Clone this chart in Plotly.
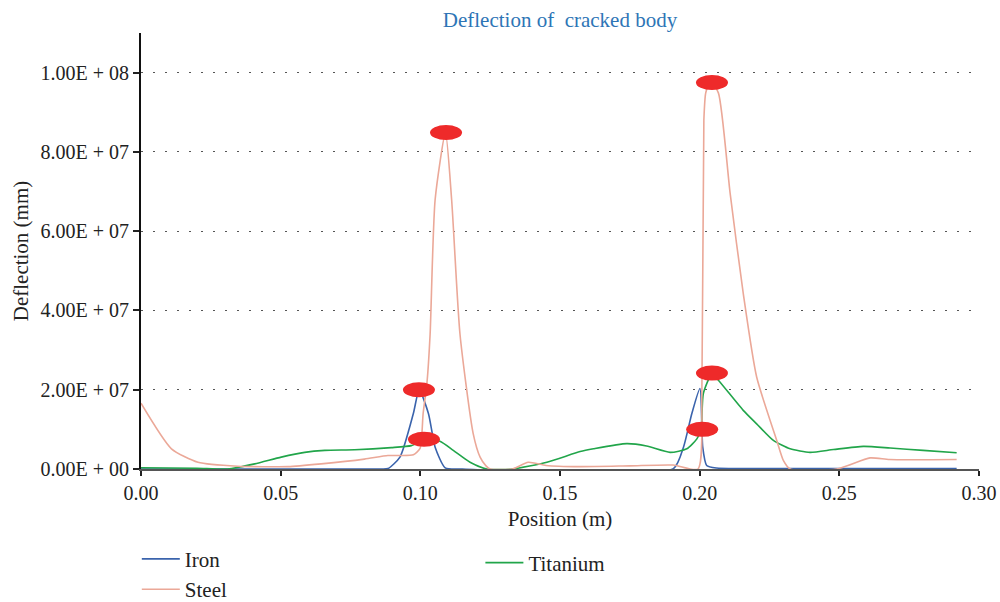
import plotly.graph_objects as go

# ---- data ----
steel_x = [0.0, 0.0109, 0.0204, 0.0347, 0.0526, 0.0645, 0.080, 0.0884, 0.093, 0.0975, 0.0999,
           0.101, 0.1024, 0.1035, 0.1053, 0.109, 0.1112, 0.1142, 0.1189, 0.1214, 0.1235, 0.125,
           0.133, 0.1386, 0.145, 0.157, 0.175, 0.1905, 0.1994, 0.2008, 0.2015, 0.2022, 0.2039,
           0.2067, 0.2109, 0.2156, 0.2204, 0.2276, 0.23, 0.2324, 0.249, 0.261, 0.268, 0.292]
steel_y = [16.6e6, 5.1e6, 1.7e6, 0.7e6, 0.6e6, 1.3e6, 2.5e6, 3.4e6, 3.4e6, 3.6e6, 5.2e6,
           14e6, 22e6, 34e6, 68e6, 84.8e6, 68e6, 34e6, 9e6, 3e6, 0.8e6, 0.0,
           0.0, 1.7e6, 0.9e6, 0.6e6, 0.8e6, 1.0e6, 0.0, 20e6, 88e6, 95e6, 97.8e6,
           94.9e6, 69.6e6, 44.3e6, 23.2e6, 7.2e6, 2.1e6, 0.0, 0.0, 2.8e6, 2.4e6, 2.4e6]

iron_x = [0.0, 0.085, 0.0884, 0.0927, 0.0975, 0.0996, 0.1029, 0.1053, 0.1089, 0.115, 0.1906,
          0.1942, 0.1972, 0.2001, 0.2011, 0.2025, 0.206, 0.215, 0.292]
iron_y = [0.0, 0.0, 0.1e6, 3e6, 14e6, 20e6, 14e6, 5.5e6, 0.3e6, 0.0, 0.1e6,
          5.5e6, 14e6, 20.3e6, 5.5e6, 0.9e6, 0.25e6, 0.1e6, 0.1e6]

titanium_x = [0.0, 0.02, 0.031, 0.0407, 0.0502, 0.0586, 0.0658, 0.0765, 0.0896, 0.0968, 0.1013,
              0.107, 0.1118, 0.1178, 0.1238, 0.133, 0.1453, 0.1572, 0.162, 0.1739, 0.181, 0.1894,
              0.1954, 0.199, 0.2005, 0.2013, 0.2044, 0.2067, 0.2156, 0.2204, 0.2264, 0.2324,
              0.2395, 0.2479, 0.2586, 0.2682, 0.28, 0.292]
titanium_y = [0.3e6, 0.2e6, 0.0, 1.3e6, 3.0e6, 4.2e6, 4.7e6, 4.85e6, 5.4e6, 5.9e6, 7.2e6,
              7.0e6, 4.7e6, 1.7e6, 0.0, 0.0, 1.7e6, 4.4e6, 5.1e6, 6.4e6, 5.8e6, 4.2e6,
              5.1e6, 7.6e6, 10e6, 19e6, 24e6, 22.4e6, 14.8e6, 11.4e6, 7.2e6, 5.1e6,
              4.2e6, 4.9e6, 5.7e6, 5.3e6, 4.7e6, 4.1e6]

peak_x = [0.0995, 0.1013, 0.1092, 0.2044, 0.2044, 0.2009]
peak_y = [2.0e7, 7.5e6, 8.49e7, 9.75e7, 2.42e7, 1.0e7]

y_tickvals = [0, 2e7, 4e7, 6e7, 8e7, 1e8]
y_ticktext = ["0.00E + 00", "2.00E + 07", "4.00E + 07", "6.00E + 07", "8.00E + 07", "1.00E + 08"]
x_tickvals = [0.0, 0.05, 0.10, 0.15, 0.20, 0.25, 0.30]
x_ticktext = ["0.00", "0.05", "0.10", "0.15", "0.20", "0.25", "0.30"]

FONT = "Liberation Serif"
fig = go.Figure()

fig.add_trace(go.Scatter(x=iron_x, y=iron_y, mode="lines", name="Iron",
                         line=dict(color="#3A63AC", width=1.6, shape="spline", smoothing=0.6),
                         legend="legend", legendgroup="i"))
fig.add_trace(go.Scatter(x=titanium_x, y=titanium_y, mode="lines", name="Titanium",
                         line=dict(color="#21A54A", width=1.6, shape="spline", smoothing=0.6),
                         legend="legend2", legendgroup="t"))
fig.add_trace(go.Scatter(x=steel_x, y=steel_y, mode="lines", name="Steel",
                         line=dict(color="#EBA898", width=1.6, shape="spline", smoothing=0.6),
                         legend="legend", legendgroup="s"))

shapes = []
for px, py in zip(peak_x, peak_y):
    shapes.append(dict(type="circle", xref="x", yref="y", xsizemode="pixel", ysizemode="pixel",
                       xanchor=px, yanchor=py, x0=-16, x1=16, y0=-7.5, y1=7.5,
                       fillcolor="#EE2A2A", line=dict(width=0), layer="above"))

fig.update_layout(
    width=1000, height=602,
    margin=dict(l=141, r=21, t=33, b=133, autoexpand=False),
    paper_bgcolor="white", plot_bgcolor="white",
    font=dict(family=FONT, size=21, color="#222222"),
    title=dict(text="Deflection of  cracked body", x=0.56, xanchor="center", y=0.967, yanchor="middle",
               font=dict(family=FONT, size=21, color="#2E75B6")),
    shapes=shapes,
    legend=dict(x=-0.005, y=-0.16, xanchor="left", yanchor="top", orientation="v",
                tracegroupgap=5, itemwidth=38, font=dict(size=21), bgcolor="rgba(0,0,0,0)",
                borderwidth=0, traceorder="normal"),
    legend2=dict(x=0.405, y=-0.1685, xanchor="left", yanchor="top", orientation="v",
                 itemwidth=38, font=dict(size=21), bgcolor="rgba(0,0,0,0)"),
)

fig.update_xaxes(range=[0, 0.30], tickvals=x_tickvals, ticktext=x_ticktext,
                 showgrid=False, zeroline=False, showline=True, linecolor="#555555", linewidth=2,
                 ticks="outside", ticklen=5, tickwidth=2, tickcolor="#222222",
                 title=dict(text="Position (m)", standoff=8, font=dict(size=21)),
                 tickfont=dict(size=20), automargin=False)
fig.update_yaxes(range=[0, 1.1e8], tickvals=y_tickvals, ticktext=y_ticktext,
                 showgrid=True, gridcolor="#555555", gridwidth=1, griddash="1.5px,10.5px",
                 zeroline=False, showline=True, linecolor="#111111", linewidth=2,
                 ticks="outside", ticklen=6, tickwidth=2, tickcolor="#222222",
                 title=dict(text="Deflection (mm)", standoff=6, font=dict(size=21)),
                 tickfont=dict(size=20), automargin=False)

fig.write_html("out.html")
